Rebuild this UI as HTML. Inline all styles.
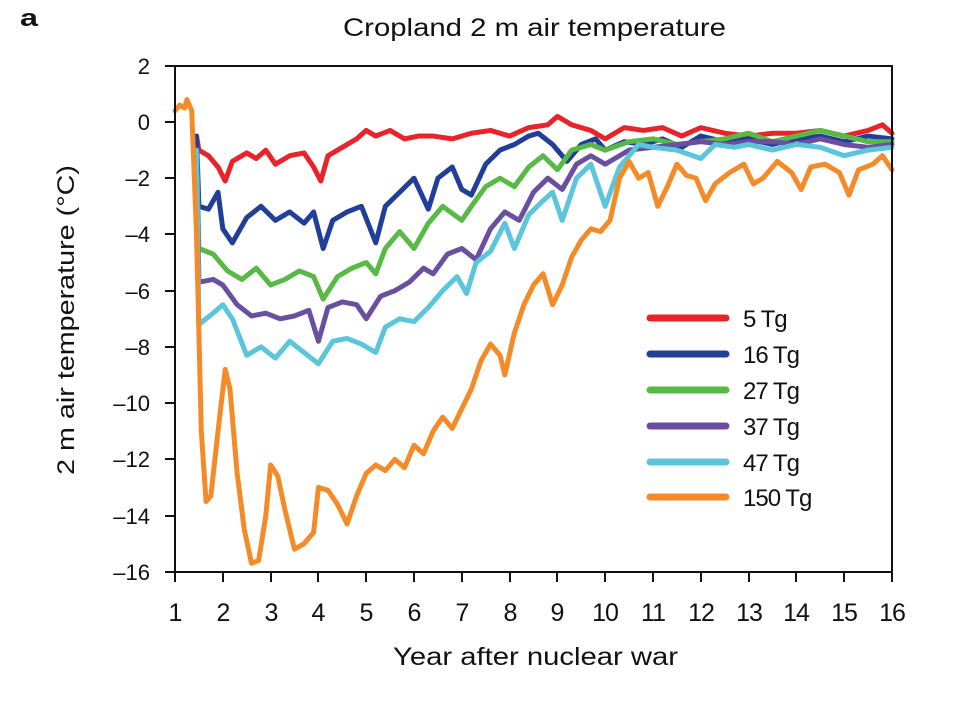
<!DOCTYPE html>
<html><head><style>body{margin:0;background:#fff}svg{display:block}text{font-family:"Liberation Sans",Arial,sans-serif;fill:#111}</style></head><body>
<svg width="960" height="720" viewBox="0 0 960 720">
<text x="20" y="26" font-size="24" font-weight="bold" textLength="18" lengthAdjust="spacingAndGlyphs">a</text>
<text x="343" y="36" font-size="25" textLength="383" lengthAdjust="spacingAndGlyphs">Cropland 2 m air temperature</text>
<g stroke-linejoin="round" stroke-linecap="round" fill="none" stroke-width="5">
<g transform="translate(175,122) scale(47.8,-28.11) translate(-1,0)">
<polyline vector-effect="non-scaling-stroke" stroke="#e8242a" points="1.45,-0.5 1.5,-1 1.7,-1.2 1.9,-1.6 2.05,-2.1 2.2,-1.4 2.5,-1.1 2.7,-1.3 2.9,-1.0 3.1,-1.5 3.4,-1.2 3.7,-1.1 3.9,-1.6 4.05,-2.1 4.2,-1.2 4.5,-0.9 4.8,-0.6 5,-0.3 5.2,-0.5 5.5,-0.3 5.8,-0.6 6.1,-0.5 6.4,-0.5 6.8,-0.6 7.2,-0.4 7.6,-0.3 8,-0.5 8.4,-0.2 8.8,-0.1 9,0.2 9.3,-0.1 9.7,-0.3 10,-0.6 10.4,-0.2 10.8,-0.3 11.2,-0.2 11.6,-0.5 12,-0.2 12.5,-0.4 13,-0.5 13.5,-0.4 14,-0.4 14.5,-0.3 15,-0.5 15.5,-0.3 15.8,-0.1 16,-0.4"/>
<polyline vector-effect="non-scaling-stroke" stroke="#213f99" points="1.45,-0.5 1.5,-3 1.7,-3.1 1.9,-2.5 2.0,-3.8 2.2,-4.3 2.5,-3.4 2.8,-3.0 3.1,-3.5 3.4,-3.2 3.7,-3.6 3.9,-3.2 4.1,-4.5 4.3,-3.5 4.6,-3.2 4.9,-3.0 5.2,-4.3 5.4,-3.0 5.7,-2.5 6,-2.0 6.3,-3.1 6.5,-2.0 6.8,-1.6 7.0,-2.4 7.2,-2.6 7.5,-1.5 7.8,-1.0 8.1,-0.8 8.4,-0.5 8.6,-0.4 8.9,-0.8 9.2,-1.4 9.5,-0.8 9.8,-0.6 10,-1.0 10.4,-0.7 10.8,-0.8 11.2,-0.6 11.6,-0.9 12,-0.5 12.5,-0.7 13,-0.6 13.5,-0.8 14,-0.6 14.5,-0.5 15,-0.7 15.5,-0.5 16,-0.6"/>
<polyline vector-effect="non-scaling-stroke" stroke="#58b947" points="1.45,-1 1.5,-4.5 1.8,-4.7 2.1,-5.3 2.4,-5.6 2.7,-5.2 3.0,-5.8 3.3,-5.6 3.6,-5.3 3.9,-5.5 4.1,-6.3 4.4,-5.5 4.7,-5.2 5.0,-5.0 5.2,-5.4 5.4,-4.5 5.7,-3.9 6.0,-4.5 6.3,-3.6 6.6,-3.0 7.0,-3.5 7.2,-3.0 7.5,-2.3 7.8,-2.0 8.1,-2.3 8.4,-1.6 8.7,-1.2 9.0,-1.7 9.3,-1.0 9.7,-0.8 10,-1.0 10.5,-0.7 11,-0.6 11.5,-0.8 12,-0.7 12.5,-0.6 13,-0.4 13.5,-0.7 14,-0.5 14.5,-0.3 15,-0.5 15.5,-0.7 16,-0.7"/>
<polyline vector-effect="non-scaling-stroke" stroke="#6a4fa0" points="1.45,-1 1.5,-5.7 1.8,-5.6 2.0,-5.8 2.3,-6.5 2.6,-6.9 2.9,-6.8 3.2,-7.0 3.5,-6.9 3.8,-6.7 4.0,-7.8 4.2,-6.6 4.5,-6.4 4.8,-6.5 5.0,-7.0 5.3,-6.2 5.6,-6.0 5.9,-5.7 6.2,-5.2 6.4,-5.4 6.7,-4.7 7.0,-4.5 7.3,-4.9 7.6,-3.8 7.9,-3.2 8.2,-3.5 8.5,-2.5 8.8,-2.0 9.1,-2.4 9.4,-1.5 9.7,-1.2 10,-1.5 10.5,-1.0 11,-0.9 11.5,-0.8 12,-0.7 12.5,-0.8 13,-0.7 13.5,-0.7 14,-0.8 14.5,-0.6 15,-0.8 15.5,-0.9 16,-0.8"/>
<polyline vector-effect="non-scaling-stroke" stroke="#5bc5db" points="1.45,-1 1.5,-7.2 1.8,-6.8 2.0,-6.5 2.2,-7.0 2.5,-8.3 2.8,-8.0 3.1,-8.4 3.4,-7.8 3.7,-8.2 4.0,-8.6 4.3,-7.8 4.6,-7.7 4.9,-7.9 5.2,-8.2 5.4,-7.3 5.7,-7.0 6.0,-7.1 6.3,-6.6 6.6,-6.0 6.9,-5.5 7.1,-6.1 7.3,-5.0 7.6,-4.6 7.9,-3.6 8.1,-4.5 8.4,-3.3 8.7,-2.8 8.9,-2.5 9.1,-3.5 9.4,-2.0 9.7,-1.5 10,-3.0 10.3,-1.6 10.7,-0.8 11,-0.9 11.5,-1.0 12,-1.3 12.3,-0.8 12.7,-0.9 13,-0.8 13.5,-1.0 14,-0.8 14.5,-0.9 15,-1.2 15.5,-1.0 16,-0.9"/>
<polyline vector-effect="non-scaling-stroke" stroke="#f58b28" points="1,0.4 1.1,0.6 1.2,0.5 1.25,0.8 1.35,0.4 1.45,-4 1.55,-11 1.65,-13.5 1.75,-13.3 1.9,-11 2.05,-8.8 2.15,-9.5 2.3,-12.5 2.45,-14.5 2.6,-15.7 2.75,-15.6 2.9,-14 3.0,-12.2 3.15,-12.6 3.3,-13.8 3.5,-15.2 3.7,-15.0 3.9,-14.6 4.0,-13.0 4.2,-13.1 4.4,-13.6 4.6,-14.3 4.8,-13.3 5.0,-12.5 5.2,-12.2 5.4,-12.4 5.6,-12.0 5.8,-12.3 6.0,-11.5 6.2,-11.8 6.4,-11.0 6.6,-10.5 6.8,-10.9 7.0,-10.2 7.2,-9.5 7.4,-8.5 7.6,-7.9 7.8,-8.3 7.9,-9.0 8.1,-7.5 8.3,-6.5 8.5,-5.8 8.7,-5.4 8.9,-6.5 9.1,-5.8 9.3,-4.8 9.5,-4.2 9.7,-3.8 9.9,-3.9 10.1,-3.5 10.3,-2.0 10.5,-1.4 10.7,-2.0 10.9,-1.8 11.1,-3.0 11.3,-2.3 11.5,-1.5 11.7,-1.9 11.9,-2.0 12.1,-2.8 12.3,-2.2 12.6,-1.8 12.9,-1.5 13.1,-2.2 13.3,-2.0 13.6,-1.4 13.9,-1.8 14.1,-2.4 14.3,-1.6 14.6,-1.5 14.9,-1.8 15.1,-2.6 15.3,-1.7 15.6,-1.5 15.8,-1.2 16,-1.7"/>
</g>
</g>
<rect x="175" y="66" width="717" height="506" fill="none" stroke="#111" stroke-width="2"/>
<g stroke="#111" stroke-width="2">
<line x1="165" y1="66" x2="175" y2="66"/><line x1="165" y1="122" x2="175" y2="122"/><line x1="165" y1="178" x2="175" y2="178"/><line x1="165" y1="234" x2="175" y2="234"/><line x1="165" y1="291" x2="175" y2="291"/><line x1="165" y1="347" x2="175" y2="347"/><line x1="165" y1="403" x2="175" y2="403"/><line x1="165" y1="459" x2="175" y2="459"/><line x1="165" y1="516" x2="175" y2="516"/><line x1="165" y1="572" x2="175" y2="572"/>
</g>
<g font-size="22" text-anchor="end">
<text x="150" y="74">2</text><text x="150" y="130">0</text><text x="150" y="186">–2</text><text x="150" y="242">–4</text><text x="150" y="299">–6</text><text x="150" y="355">–8</text><text x="150" y="411">–10</text><text x="150" y="467">–12</text><text x="150" y="524">–14</text><text x="150" y="580">–16</text>
</g>
<g stroke="#111" stroke-width="2">
<line x1="175" y1="572" x2="175" y2="582"/><line x1="223" y1="572" x2="223" y2="582"/><line x1="271" y1="572" x2="271" y2="582"/><line x1="318" y1="572" x2="318" y2="582"/><line x1="366" y1="572" x2="366" y2="582"/><line x1="414" y1="572" x2="414" y2="582"/><line x1="462" y1="572" x2="462" y2="582"/><line x1="510" y1="572" x2="510" y2="582"/><line x1="557" y1="572" x2="557" y2="582"/><line x1="605" y1="572" x2="605" y2="582"/><line x1="653" y1="572" x2="653" y2="582"/><line x1="701" y1="572" x2="701" y2="582"/><line x1="749" y1="572" x2="749" y2="582"/><line x1="796" y1="572" x2="796" y2="582"/><line x1="844" y1="572" x2="844" y2="582"/><line x1="892" y1="572" x2="892" y2="582"/>
</g>
<g font-size="25" text-anchor="middle" letter-spacing="-1">
<text x="175" y="621">1</text><text x="223" y="621">2</text><text x="271" y="621">3</text><text x="318" y="621">4</text><text x="366" y="621">5</text><text x="414" y="621">6</text><text x="462" y="621">7</text><text x="510" y="621">8</text><text x="557" y="621">9</text><text x="605" y="621">10</text><text x="653" y="621">11</text><text x="701" y="621">12</text><text x="749" y="621">13</text><text x="796" y="621">14</text><text x="844" y="621">15</text><text x="892" y="621">16</text>
</g>
<text x="393" y="665" font-size="25" textLength="285" lengthAdjust="spacingAndGlyphs">Year after nuclear war</text>
<text transform="translate(74,475) rotate(-90)" font-size="24" textLength="310" lengthAdjust="spacingAndGlyphs">2 m air temperature (°C)</text>
<g stroke-width="7" stroke-linecap="round">
<line x1="650" y1="318" x2="726" y2="318" stroke="#e8242a"/><line x1="650" y1="354" x2="726" y2="354" stroke="#213f99"/><line x1="650" y1="390" x2="726" y2="390" stroke="#58b947"/><line x1="650" y1="426" x2="726" y2="426" stroke="#6a4fa0"/><line x1="650" y1="462" x2="726" y2="462" stroke="#5bc5db"/><line x1="650" y1="497" x2="726" y2="497" stroke="#f58b28"/>
</g>
<g font-size="24" letter-spacing="-1">
<text x="743" y="327">5 Tg</text><text x="743" y="363">16 Tg</text><text x="743" y="399">27 Tg</text><text x="743" y="435">37 Tg</text><text x="743" y="471">47 Tg</text><text x="743" y="506">150 Tg</text>
</g>
</svg>
</body></html>
